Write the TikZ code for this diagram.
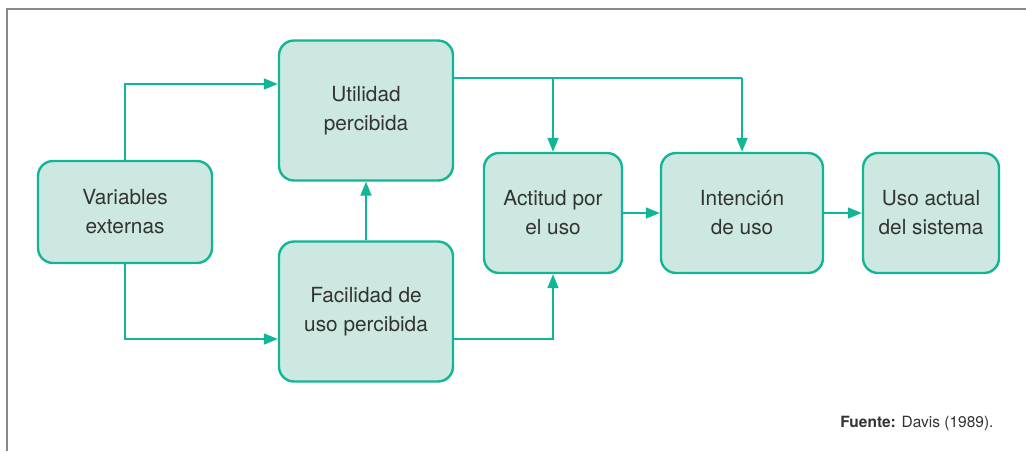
\documentclass[tikz,border=0pt]{standalone}
\usepackage{fontspec}
\setmainfont{TeX Gyre Heros}
\usetikzlibrary{arrows.meta}
\definecolor{teal}{HTML}{12B595}
\definecolor{boxfill}{HTML}{CDE8E0}
\definecolor{txt}{HTML}{333333}
\definecolor{frame}{HTML}{8A8A8A}
\begin{document}
\begin{tikzpicture}[x=1pt,y=-1pt,
  box/.style={draw=teal, fill=boxfill, line width=2.4pt, rounded corners=15pt,
    align=center, text=txt, font=\fontsize{20.8}{29}\selectfont, inner sep=0pt},
  conn/.style={draw=teal, line width=1.8pt, -{Triangle[length=14pt,width=11pt]}},
  plain/.style={draw=teal, line width=1.8pt}]
\useasboundingbox (0,0) rectangle (1026,451);
\draw[frame, line width=1.5pt] (7,451) -- (7,9) -- (1026,9);
\node[box, minimum width=174pt, minimum height=102pt] (ve) at (125,212) {Variables\\externas};
\node[box, minimum width=174pt, minimum height=140pt] (up) at (366,110.5) {Utilidad\\percibida};
\node[box, minimum width=174pt, minimum height=140pt] (fu) at (366,311.5) {Facilidad de\\uso percibida};
\node[box, minimum width=138pt, minimum height=120pt] (ac) at (553,213) {Actitud por\\el uso};
\node[box, minimum width=162pt, minimum height=120pt] (in) at (742,213) {Intención\\de uso};
\node[box, minimum width=136pt, minimum height=120pt] (us) at (931,213) {Uso actual\\del sistema};
\node[anchor=base east, text=txt, font=\fontsize{15.5}{18}\selectfont] (src) at (997,427) {\textbf{Fuente:} Davis (1989).};
\coordinate (j1) at (ac.north |- 0,78);
\coordinate (j2) at (in.north |- 0,78);
\draw[conn] (ve.north) |- (up.west |- 0,84);
\draw[conn] (ve.south) |- (fu.west |- 0,339);
\draw[conn] (fu.north) -- (up.south);
\draw[plain] (up.east |- 0,78) -- (j2);
\draw[conn] (j1) -- (ac.north);
\draw[conn] (j2) -- (in.north);
\draw[conn] (fu.east |- 0,339) -| (ac.south);
\draw[conn] (ac.east) -- (in.west);
\draw[conn] (in.east) -- (us.west);
\end{tikzpicture}
\end{document}
